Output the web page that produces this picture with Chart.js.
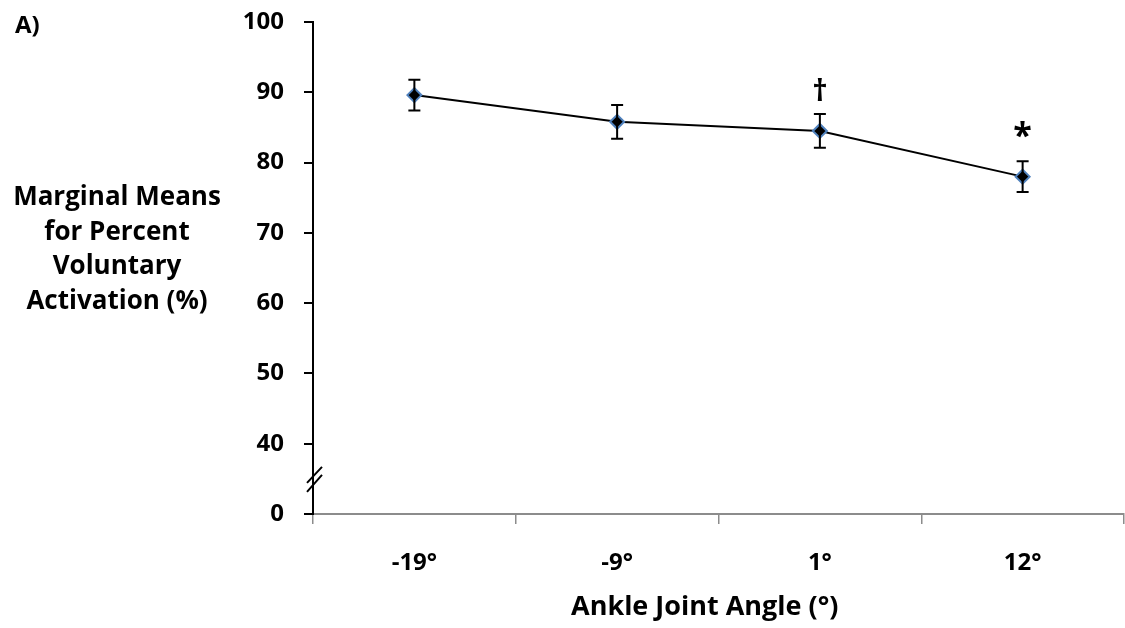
<!DOCTYPE html>
<html>
<head>
<meta charset="utf-8">
<script src="https://cdn.jsdelivr.net/npm/chart.js@4/dist/chart.umd.min.js"></script>
<style>
    html, body { margin: 0; padding: 0; background: #fff; }
    #wrap { width: 1125px; height: 628px; }
</style>
</head>
<body>
<div id="wrap"><canvas id="vaChart" width="1125" height="628"></canvas></div>
<script>
// data
const angles = ['-19°', '-9°', '1°', '12°'];
const means = [89.6, 85.8, 84.5, 78.0];
const errors = [2.2, 2.4, 2.4, 2.2];
const marks = ['', '', '†', '*'];
const yTicks = [30, 40, 50, 60, 70, 80, 90, 100]; // 30 is shown as "0" (broken axis)
const yTitle = ['Marginal Means', 'for Percent', 'Voluntary', 'Activation (%)'];
const xTitle = 'Ankle Joint Angle (°)';

const FONT = '"Open Sans", Lato, sans-serif';

// error bars, significance marks, axis break and side texts
const extrasPlugin = {
    id: 'extras',
    afterDatasetsDraw(chart) {
        const { ctx, scales: { x, y } } = chart;
        ctx.save();
        ctx.strokeStyle = '#000';
        ctx.lineWidth = 2;
        means.forEach((m, i) => {
            const px = x.getPixelForValue(i);
            const top = y.getPixelForValue(m + errors[i]);
            const bot = y.getPixelForValue(m - errors[i]);
            ctx.beginPath();
            ctx.moveTo(px, top); ctx.lineTo(px, bot);
            ctx.moveTo(px - 6, top); ctx.lineTo(px + 6, top);
            ctx.moveTo(px - 6, bot); ctx.lineTo(px + 6, bot);
            ctx.stroke();
        });
        ctx.restore();
    },
    afterDraw(chart) {
        const { ctx, chartArea, scales: { x, y } } = chart;
        ctx.save();
        ctx.fillStyle = '#000';
        ctx.textBaseline = 'middle';
        ctx.textAlign = 'center';
        marks.forEach((t, i) => {
            if (!t) return;
            const px = x.getPixelForValue(i);
            const top = y.getPixelForValue(means[i] + errors[i]);
            if (t === '*') {
                ctx.font = 'bold 34px ' + FONT;
                ctx.fillText(t, px, top - 24);
            } else {
                ctx.font = 'bold 30px ' + FONT;
                ctx.fillText(t, px, top - 22);
            }
        });

        // axis break (two slashes across the y axis)
        const bx = y.right;
        const by = y.getPixelForValue(35);
        ctx.strokeStyle = '#000';
        ctx.lineWidth = 2;
        ctx.beginPath();
        ctx.moveTo(bx - 6, by + 4); ctx.lineTo(bx + 9, by - 12);
        ctx.moveTo(bx - 6, by + 13); ctx.lineTo(bx + 9, by - 4);
        ctx.stroke();

        // axis titles and panel letter
        ctx.fillStyle = '#000';
        ctx.font = 'bold 26px ' + FONT;
        ctx.textAlign = 'center';
        yTitle.forEach((line, i) => {
            ctx.fillText(line, 117, 198 + i * 34.5);
        });
        ctx.font = 'bold 27px ' + FONT;
        ctx.fillText(xTitle, chartArea.left + (chartArea.right - chartArea.left) * 0.483, 607);
        ctx.textAlign = 'left';
        ctx.font = 'bold 24px ' + FONT;
        ctx.fillText('A)', 15, 26);
        ctx.restore();
    }
};

document.addEventListener('DOMContentLoaded', function () {
    const el = document.getElementById('vaChart');
    new Chart(el, {
        type: 'line',
        data: {
            labels: angles,
            datasets: [{
                data: means,
                borderColor: '#000',
                borderWidth: 2,
                pointStyle: 'rectRot',
                pointRadius: 7,
                pointBackgroundColor: '#000',
                pointBorderColor: '#4F81BD',
                pointBorderWidth: 2,
                tension: 0,
                fill: false
            }]
        },
        options: {
            responsive: false,
            animation: false,
            layout: {
                autoPadding: false,
                padding: { top: 22, right: 1, left: 0, bottom: 0 }
            },
            plugins: {
                legend: { display: false },
                tooltip: { enabled: false }
            },
            scales: {
                x: {
                    type: 'category',
                    offset: true,
                    grid: {
                        offset: true,
                        drawOnChartArea: false,
                        color: '#8c8c8c',
                        lineWidth: 1.5,
                        tickLength: 10
                    },
                    border: { color: '#8c8c8c', width: 2 },
                    ticks: {
                        color: '#000',
                        padding: 25,
                        font: { family: FONT, size: 24, weight: 'bold' }
                    },
                    afterFit: (s) => {
                        s.height = 114;
                        s.paddingLeft = 0;
                        s.paddingRight = 0;
                    }
                },
                y: {
                    min: 30,
                    max: 100,
                    afterBuildTicks: (s) => { s.ticks = yTicks.map(v => ({ value: v })); },
                    grid: {
                        drawOnChartArea: false,
                        color: '#000',
                        lineWidth: 2,
                        tickLength: 9
                    },
                    border: { color: '#000', width: 2 },
                    ticks: {
                        color: '#000',
                        padding: 20,
                        font: { family: FONT, size: 24, weight: 'bold' },
                        callback: (v) => v === 30 ? '0' : v
                    },
                    afterFit: (s) => {
                        s.width = 313;
                        s.paddingTop = 0;
                        s.paddingBottom = 0;
                    }
                }
            }
        },
        plugins: [extrasPlugin]
    });
});
</script>
</body>
</html>
